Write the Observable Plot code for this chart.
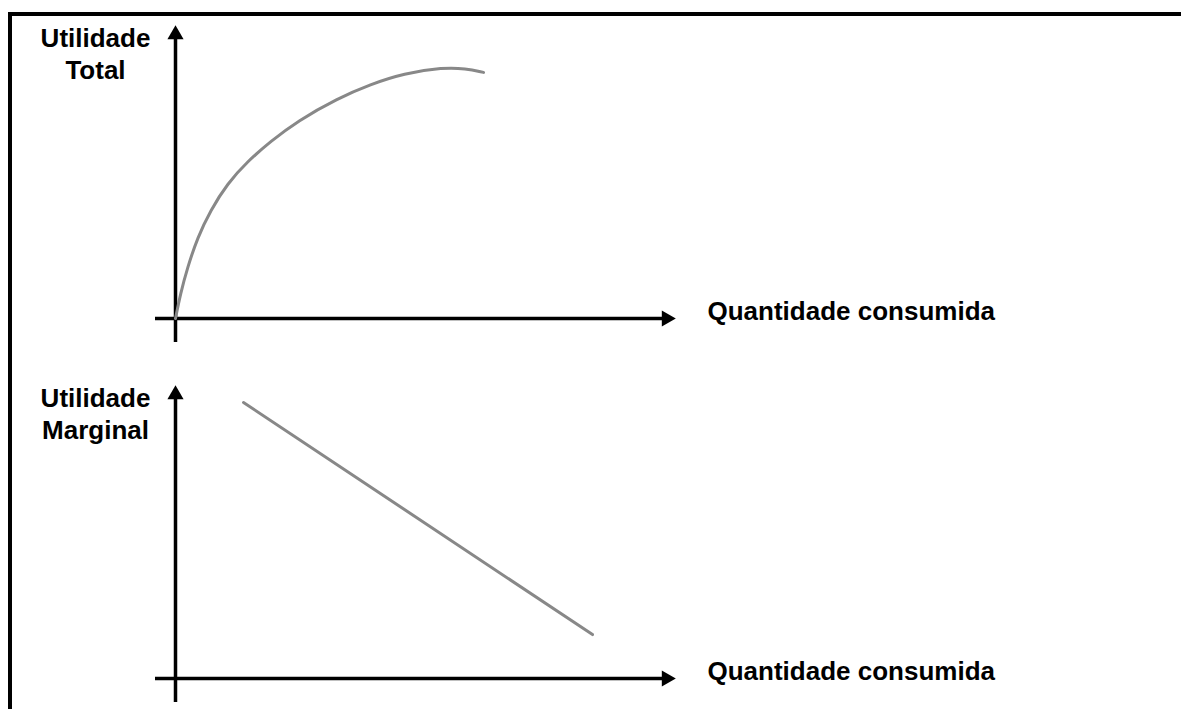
<!DOCTYPE html>
<html>
<head>
<meta charset="utf-8">
<script src="https://cdn.jsdelivr.net/npm/d3@7"></script>
<script src="https://cdn.jsdelivr.net/npm/@observablehq/plot@0.6"></script>
<style>
  html, body { margin: 0; padding: 0; background: #fff; overflow: hidden; }
  #wrap { position: relative; width: 1181px; height: 709px; overflow: hidden; background: #fff; }
  #frame { position: absolute; left: 8px; top: 12px; width: 1300px; height: 900px;
           border-left: 4px solid #000; border-top: 4px solid #000; box-sizing: border-box; }
  .panel { position: absolute; left: 0; }
</style>
</head>
<body>
<div id="wrap"><div id="frame"></div></div>
<script>
// Axis domains (conceptual units)
const xDomain = [0, 10];
const yDomain = [0, 10];

// Top panel: total utility curve (quantity, utility)
const totalQ = [0, 0.1, 0.24, 0.44, 0.7, 1.04, 1.44, 1.9, 2.44, 3.24, 3.9, 4.56, 5.36, 5.8, 6.16];
const totalU = [0, 0.85, 1.74, 2.76, 3.69, 4.61, 5.36, 6.04, 6.74, 7.51, 7.99, 8.36, 8.57, 8.53, 8.4];

// Bottom panel: marginal utility line
const marginalQ = [1.36, 8.34];
const marginalU = [9.42, 1.5];

// Labels
const yLabels = ["Utilidade\nTotal", "Utilidade\nMarginal"];
const xLabel = "Quantidade consumida";

const font = "'Liberation Sans', Arial, sans-serif";

function panel(q, u, ylabel, curve) {
  const pts = q.map((d, i) => ({q: d, u: u[i]}));
  return Plot.plot({
    width: 1181,
    height: 360,
    marginLeft: 175,
    marginRight: 506,
    marginTop: 25,
    marginBottom: 42,
    x: {domain: xDomain, axis: null},
    y: {domain: yDomain, axis: null},
    style: {background: "transparent", fontFamily: font},
    marks: [
      // axes
      Plot.ruleY([yDomain[0]], {x1: xDomain[0] - 0.4, x2: xDomain[1] - 0.2, stroke: "#000", strokeWidth: 3.5}),
      Plot.ruleX([xDomain[0]], {y1: yDomain[0] - 0.82, y2: yDomain[1] - 0.3, stroke: "#000", strokeWidth: 3.5}),
      Plot.dot([xDomain[1]], {x: d => d, y: yDomain[0], symbol: "triangle", r: 6, fill: "#000", stroke: "none", rotate: 90, dx: -9}),
      Plot.dot([yDomain[1]], {x: xDomain[0], y: d => d, symbol: "triangle", r: 6, fill: "#000", stroke: "none", dy: 9}),
      // data
      Plot.line(pts, {x: "q", y: "u", stroke: "#888", strokeWidth: 3, curve}),
      // labels
      Plot.text([xLabel], {x: xDomain[1], y: yDomain[0], text: d => d, dx: 32, dy: 1,
        textAnchor: "start", lineAnchor: "bottom", fontSize: 26, fontWeight: "bold", fill: "#000", fontFamily: font}),
      Plot.text([ylabel], {x: xDomain[0], y: yDomain[1], text: d => d, dx: -80, dy: 53,
        textAnchor: "middle", lineAnchor: "bottom", lineHeight: 1.2, fontSize: 26, fontWeight: "bold", fill: "#000", fontFamily: font})
    ]
  });
}

const wrap = document.getElementById("wrap");
const p1 = panel(totalQ, totalU, yLabels[0], "basis");
p1.classList.add("panel"); p1.style.top = "0px";
const p2 = panel(marginalQ, marginalU, yLabels[1], "linear");
p2.classList.add("panel"); p2.style.top = "360px";
wrap.appendChild(p1);
wrap.appendChild(p2);
</script>
</body>
</html>
